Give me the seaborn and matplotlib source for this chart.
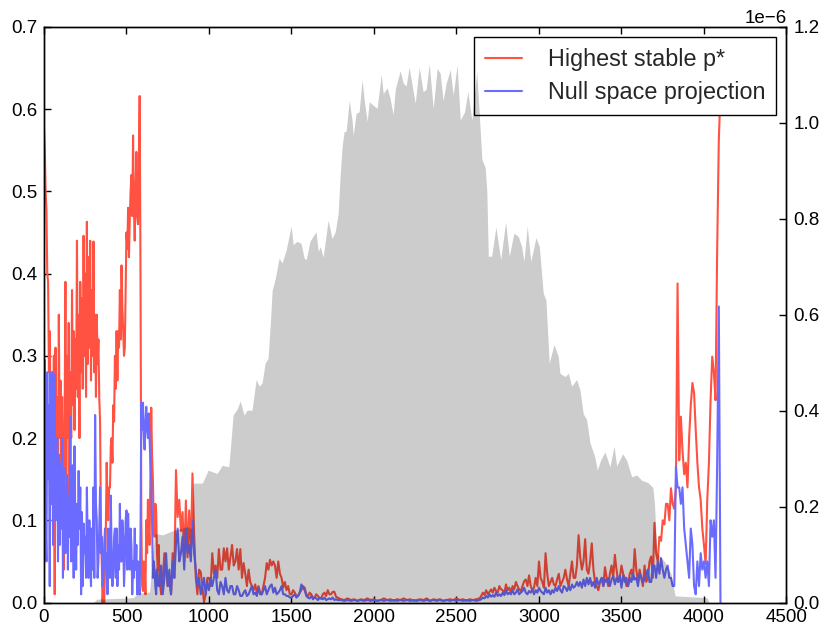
import numpy as np
import pandas as pd
import matplotlib
matplotlib.use("Agg")
import matplotlib.pyplot as plt
import seaborn as sns

# sample positions: finer spacing where the signals are noisy
step_x = np.concatenate([
    np.arange(0, 700, 5),
    np.arange(700, 1000, 10),
    np.arange(1000, 1800, 10),
    np.arange(1800, 2640, 20),
    np.arange(2640, 3600, 10),
    np.arange(3600, 4101, 10),
])

# highest stable p* (left axis)
stable_p = [
    # 0 .. 695
    0.578, 0.55, 0.50, 0.478, 0.40, 0.39, 0.28, 0.33, 0.22, 0.25,
    0.28, 0.17, 0.30, 0.01, 0.31, 0.14, 0.25, 0.12, 0.35, 0.20,
    0.27, 0.16, 0.25, 0.18, 0.04, 0.22, 0.39, 0.15, 0.30, 0.20,
    0.34, 0.13, 0.28, 0.20, 0.38, 0.24, 0.33, 0.21, 0.32, 0.26,
    0.44, 0.25, 0.35, 0.20, 0.39, 0.28, 0.37, 0.26, 0.446, 0.30,
    0.40, 0.25, 0.463, 0.29, 0.42, 0.31, 0.44, 0.27, 0.38, 0.30,
    0.439, 0.28, 0.35, 0.25, 0.35, 0.29, 0.32, 0.25, 0.22, 0.10,
    0.05, 0.0, 0.02, 0.0, 0.04, 0.09, 0.17, 0.12, 0.10, 0.14,
    0.14, 0.19, 0.20, 0.17, 0.24, 0.22, 0.30, 0.26, 0.33, 0.27,
    0.33, 0.31, 0.38, 0.32, 0.41, 0.36, 0.33, 0.30, 0.31, 0.38,
    0.45, 0.43, 0.48, 0.42, 0.466, 0.50, 0.52, 0.47, 0.568, 0.48,
    0.44, 0.50, 0.548, 0.47, 0.46, 0.53, 0.616, 0.40, 0.10, 0.02,
    0.014, 0.05, 0.04, 0.01, 0.10, 0.06, 0.125, 0.09, 0.07, 0.15,
    0.237, 0.18, 0.15, 0.10, 0.08, 0.12, 0.11, 0.06, 0.04, 0.07,
    # 700 .. 990
    0.03, 0.01, 0.03, 0.06, 0.04, 0.02, 0.025, 0.01, 0.06, 0.03,
    0.161, 0.104, 0.125, 0.087, 0.11, 0.05, 0.124, 0.055, 0.112, 0.06,
    0.157, 0.083, 0.03, 0.01, 0.04, 0.037, 0.02, 0.0, 0.01, 0.03,
    # 1000 .. 1790
    0.03, 0.02, 0.06, 0.035, 0.045, 0.03, 0.065, 0.04, 0.04, 0.066,
    0.05, 0.066, 0.04, 0.055, 0.07, 0.045, 0.05, 0.065, 0.04, 0.065,
    0.03, 0.048, 0.035, 0.02, 0.04, 0.025, 0.02, 0.015, 0.022, 0.012,
    0.02, 0.012, 0.01, 0.02, 0.03, 0.048, 0.04, 0.052, 0.045, 0.05,
    0.045, 0.03, 0.05, 0.035, 0.03, 0.018, 0.025, 0.015, 0.02, 0.01,
    0.01, 0.015, 0.012, 0.008, 0.008, 0.012, 0.015, 0.02, 0.018, 0.01,
    0.008, 0.012, 0.01, 0.006, 0.006, 0.01, 0.008, 0.005, 0.005, 0.01,
    0.012, 0.008, 0.015, 0.01, 0.01, 0.013, 0.013, 0.007, 0.006, 0.005,
    # 1800 .. 2620
    0.004, 0.003, 0.005, 0.003, 0.004, 0.002, 0.004, 0.003, 0.005, 0.003,
    0.004, 0.002, 0.003, 0.005, 0.003, 0.004, 0.002, 0.004, 0.003, 0.005,
    0.003, 0.004, 0.002, 0.003, 0.004, 0.003, 0.005, 0.002, 0.004, 0.003,
    0.004, 0.002, 0.003, 0.004, 0.003, 0.005, 0.003, 0.004, 0.002, 0.004,
    0.003, 0.004,
    # 2640 .. 3590
    0.005, 0.008, 0.012, 0.009, 0.015, 0.01, 0.013, 0.016, 0.012, 0.018,
    0.014, 0.012, 0.02, 0.016, 0.015, 0.01, 0.022, 0.015, 0.018, 0.012,
    0.02, 0.016, 0.025, 0.02, 0.016, 0.014, 0.02, 0.026, 0.028, 0.02,
    0.033, 0.02, 0.015, 0.018, 0.03, 0.02, 0.05, 0.03, 0.025, 0.018,
    0.06, 0.035, 0.02, 0.025, 0.03, 0.022, 0.02, 0.028, 0.035, 0.02,
    0.025, 0.03, 0.04, 0.028, 0.02, 0.035, 0.05, 0.03, 0.03, 0.045,
    0.082, 0.055, 0.04, 0.05, 0.077, 0.04, 0.035, 0.05, 0.072, 0.04,
    0.025, 0.02, 0.015, 0.025, 0.03, 0.02, 0.043, 0.03, 0.02, 0.035,
    0.045, 0.03, 0.058, 0.04, 0.025, 0.03, 0.045, 0.035, 0.03, 0.02,
    0.02, 0.035, 0.04, 0.028, 0.065, 0.04,
    # 3600 .. 4100
    0.025, 0.04, 0.03, 0.02, 0.045, 0.025, 0.03, 0.05, 0.056, 0.03,
    0.097, 0.06, 0.05, 0.08, 0.075, 0.1, 0.095, 0.12, 0.12, 0.10,
    0.139, 0.12, 0.114, 0.14, 0.388, 0.173, 0.226, 0.184, 0.156, 0.17,
    0.14, 0.2, 0.24, 0.267, 0.255, 0.21, 0.17, 0.14, 0.125, 0.09,
    0.07, 0.047, 0.125, 0.17, 0.246, 0.299, 0.28, 0.246, 0.429, 0.563,
    0.62,
]

# null space projection (left axis)
null_proj = [
    # 0 .. 695
    0.25, 0.295, 0.10, 0.05, 0.28, 0.15, 0.24, 0.02, 0.28, 0.12,
    0.28, 0.07, 0.22, 0.277, 0.10, 0.12, 0.20, 0.05, 0.18, 0.07,
    0.17, 0.09, 0.20, 0.03, 0.15, 0.163, 0.06, 0.10, 0.155, 0.04,
    0.13, 0.08, 0.226, 0.05, 0.14, 0.167, 0.03, 0.19, 0.10, 0.04,
    0.12, 0.07, 0.16, 0.09, 0.14, 0.01, 0.11, 0.02, 0.096, 0.06,
    0.08, 0.03, 0.14, 0.07, 0.03, 0.10, 0.05, 0.02, 0.09, 0.04,
    0.14, 0.03, 0.228, 0.12, 0.10, 0.03, 0.05, 0.09, 0.14, 0.06,
    0.08, 0.02, 0.03, 0.07, 0.09, 0.04, 0.06, 0.01, 0.09, 0.05,
    0.03, 0.13, 0.06, 0.02, 0.04, 0.08, 0.09, 0.03, 0.09, 0.02,
    0.07, 0.04, 0.12, 0.05, 0.05, 0.10, 0.08, 0.02, 0.05, 0.10,
    0.112, 0.04, 0.108, 0.06, 0.04, 0.09, 0.07, 0.01, 0.05, 0.03,
    0.09, 0.04, 0.07, 0.01, 0.05, 0.02, 0.01, 0.08, 0.243, 0.21,
    0.243, 0.20, 0.186, 0.22, 0.238, 0.21, 0.2, 0.23, 0.2, 0.17,
    0.15, 0.10, 0.03, 0.05, 0.04, 0.02, 0.01, 0.04, 0.03, 0.02,
    # 700 .. 990
    0.02, 0.045, 0.01, 0.03, 0.06, 0.02, 0.04, 0.01, 0.05, 0.03,
    0.07, 0.09, 0.05, 0.06, 0.08, 0.04, 0.09, 0.06, 0.07, 0.05,
    0.1, 0.06, 0.04, 0.02, 0.03, 0.01, 0.02, 0.03, 0.01, 0.025,
    # 1000 .. 1790
    0.015, 0.03, 0.02, 0.03, 0.04, 0.015, 0.01, 0.025, 0.02, 0.01,
    0.03, 0.015, 0.012, 0.02, 0.02, 0.01, 0.01, 0.02, 0.015, 0.008,
    0.008, 0.012, 0.015, 0.008, 0.01, 0.015, 0.02, 0.01, 0.012, 0.008,
    0.018, 0.01, 0.01, 0.015, 0.02, 0.01, 0.015, 0.02, 0.022, 0.012,
    0.018, 0.01, 0.012, 0.015, 0.02, 0.01, 0.01, 0.008, 0.008, 0.006,
    0.006, 0.008, 0.01, 0.006, 0.008, 0.012, 0.022, 0.018, 0.015, 0.008,
    0.006, 0.005, 0.008, 0.004, 0.006, 0.005, 0.003, 0.006, 0.005, 0.004,
    0.006, 0.003, 0.004, 0.005, 0.004, 0.006, 0.003, 0.004, 0.003, 0.003,
    # 1800 .. 2620
    0.003, 0.002, 0.003, 0.002, 0.003, 0.002, 0.003, 0.002, 0.003, 0.002,
    0.003, 0.002, 0.003, 0.002, 0.003, 0.002, 0.003, 0.002, 0.003, 0.002,
    0.003, 0.002, 0.003, 0.002, 0.003, 0.002, 0.003, 0.002, 0.003, 0.002,
    0.003, 0.002, 0.003, 0.002, 0.003, 0.002, 0.003, 0.002, 0.003, 0.002,
    0.003, 0.002,
    # 2640 .. 3590
    0.003, 0.004, 0.006, 0.005, 0.008, 0.006, 0.01, 0.007, 0.009, 0.007,
    0.012, 0.008, 0.01, 0.008, 0.012, 0.009, 0.015, 0.01, 0.012, 0.01,
    0.015, 0.01, 0.012, 0.016, 0.01, 0.012, 0.014, 0.018, 0.012, 0.01,
    0.014, 0.012, 0.016, 0.01, 0.015, 0.012, 0.018, 0.014, 0.012, 0.01,
    0.018, 0.012, 0.015, 0.01, 0.015, 0.012, 0.018, 0.014, 0.02, 0.015,
    0.012, 0.02, 0.018, 0.014, 0.02, 0.015, 0.022, 0.018, 0.02, 0.025,
    0.02, 0.025, 0.018, 0.028, 0.02, 0.03, 0.022, 0.03, 0.02, 0.025,
    0.018, 0.03, 0.022, 0.025, 0.03, 0.02, 0.028, 0.025, 0.03, 0.02,
    0.028, 0.032, 0.022, 0.03, 0.025, 0.033, 0.018, 0.033, 0.025, 0.03,
    0.02, 0.03, 0.025, 0.035, 0.028, 0.03,
    # 3600 .. 4100
    0.02, 0.035, 0.03, 0.025, 0.028, 0.035, 0.04, 0.025, 0.025, 0.045,
    0.045, 0.03, 0.05, 0.035, 0.054, 0.04, 0.03, 0.04, 0.045, 0.03,
    0.03, 0.02, 0.02, 0.165, 0.14, 0.14, 0.12, 0.14, 0.09, 0.07,
    0.05, 0.03, 0.09, 0.07, 0.02, 0.01, 0.05, 0.02, 0.06, 0.04,
    0.05, 0.03, 0.05, 0.02, 0.1, 0.08, 0.1, 0.03, 0.17, 0.36,
    0.0,
]

# background envelope (right axis, in units of 1e-6)
gray_x = [
    0, 300, 320, 540, 570, 640, 655, 670, 720, 760, 790, 870, 895, 905, 960,
    995, 1049, 1080, 1120, 1135, 1146, 1170, 1189, 1213, 1231, 1261, 1286,
    1305, 1322, 1340, 1358, 1372, 1383, 1401, 1425, 1443, 1468, 1498, 1510,
    1534, 1558, 1577, 1589, 1613, 1649, 1662, 1674, 1692, 1722, 1746, 1765,
    1783, 1795, 1807, 1819, 1831, 1850, 1868, 1874, 1892, 1910, 1928, 1941,
    1959, 1971, 1995, 2019, 2044, 2056, 2080, 2098, 2116, 2129, 2159, 2177,
    2195, 2213, 2232, 2250, 2274, 2298, 2316, 2335, 2359, 2383, 2401, 2419,
    2438, 2462, 2480, 2504, 2523, 2549, 2569, 2593, 2623, 2633, 2654, 2674,
    2684, 2693, 2713, 2739, 2768, 2798, 2820, 2848, 2875, 2895, 2909, 2929,
    2950, 2982, 3002, 3026, 3042, 3052, 3062, 3091, 3117, 3127, 3158, 3178,
    3198, 3228, 3248, 3268, 3289, 3309, 3339, 3353, 3374, 3400, 3430, 3455,
    3471, 3507, 3531, 3562, 3592, 3622, 3660, 3690, 3700, 3715, 3760, 3800,
    3825, 4020, 4030,
]
gray_amp = [
    0.0, 0.0, 0.007, 0.010, 0.019, 0.022, 0.086, 0.144, 0.141, 0.147, 0.151,
    0.158, 0.154, 0.249, 0.249, 0.276, 0.269, 0.286, 0.283, 0.343, 0.391,
    0.403, 0.420, 0.391, 0.401, 0.401, 0.465, 0.451, 0.458, 0.499, 0.509,
    0.583, 0.651, 0.674, 0.718, 0.708, 0.735, 0.785, 0.746, 0.753, 0.749,
    0.718, 0.715, 0.754, 0.773, 0.732, 0.742, 0.720, 0.797, 0.759, 0.773,
    0.811, 0.891, 0.951, 0.982, 0.982, 1.047, 1.003, 0.974, 1.020, 1.023,
    1.090, 1.047, 1.003, 1.044, 1.037, 1.030, 1.101, 1.061, 1.073, 1.051,
    1.017, 1.070, 1.109, 1.083, 1.077, 1.116, 1.077, 1.041, 1.116, 1.065,
    1.070, 1.123, 1.030, 1.113, 1.104, 1.047, 1.083, 1.111, 1.058, 1.121,
    1.006, 1.023, 1.065, 1.006, 1.107, 1.049, 0.924, 0.907, 0.857, 0.722,
    0.722, 0.783, 0.715, 0.794, 0.722, 0.770, 0.763, 0.742, 0.711, 0.785,
    0.711, 0.761, 0.742, 0.645, 0.631, 0.567, 0.499, 0.538, 0.513, 0.478,
    0.471, 0.478, 0.451, 0.465, 0.444, 0.394, 0.381, 0.333, 0.303, 0.276,
    0.297, 0.314, 0.283, 0.326, 0.285, 0.310, 0.297, 0.262, 0.266, 0.255,
    0.250, 0.240, 0.206, 0.103, 0.086, 0.060, 0.014, 0.010, 0.0,
]

RED = "#ff5242"
BLUE = "#6b6bff"

sns.set_style("ticks")
plt.rcParams.update({
    "font.family": ["Liberation Sans", "DejaVu Sans"],
    "font.size": 13.5,
    "xtick.direction": "in",
    "ytick.direction": "in",
    "xtick.top": True,
    "ytick.right": False,
    "xtick.major.size": 5,
    "ytick.major.size": 5,
    "xtick.major.width": 1.0,
    "ytick.major.width": 1.0,
    "xtick.major.pad": 5,
    "ytick.major.pad": 5,
    "xtick.color": "black",
    "ytick.color": "black",
    "axes.edgecolor": "black",
    "axes.linewidth": 1.0,
    "axes.unicode_minus": True,
})

fig, ax = plt.subplots(figsize=(8.25, 6.26), dpi=100)
fig.subplots_adjust(left=0.0533, right=0.9533, bottom=0.0375, top=0.957)

df = pd.DataFrame({"x": step_x, "stable": stable_p, "null": null_proj})
sns.lineplot(data=df, x="x", y="stable", ax=ax, color=RED, lw=1.5,
             label="Highest stable p*", estimator=None)
sns.lineplot(data=df, x="x", y="null", ax=ax, color=BLUE, lw=1.5,
             label="Null space projection", estimator=None)

ax.set_xlim(0, 4500)
ax.set_ylim(0, 0.7)
ax.set_xticks(np.arange(0, 4501, 500))
ax.set_yticks(np.linspace(0, 0.7, 8))
ax.set_xlabel("")
ax.set_ylabel("")
ax.legend(loc="upper right", fontsize=16.8, frameon=True, fancybox=False,
          framealpha=1, edgecolor="black", borderaxespad=0.45,
          handlelength=1.6, handletextpad=1.1, borderpad=0.45,
          labelspacing=0.45)
ax.get_legend().get_frame().set_linewidth(1.0)

ax2 = ax.twinx()
ax2.fill_between(gray_x, 0, np.array(gray_amp) * 1e-6, color="black",
                 alpha=0.2, lw=0)
ax2.set_ylim(0, 1.2e-6)
ax2.set_yticks(np.linspace(0, 1.2e-6, 7))
ax2.tick_params(axis="y", direction="in", length=5, width=1.0, pad=5)

fig.savefig("out.png", dpi=100)
